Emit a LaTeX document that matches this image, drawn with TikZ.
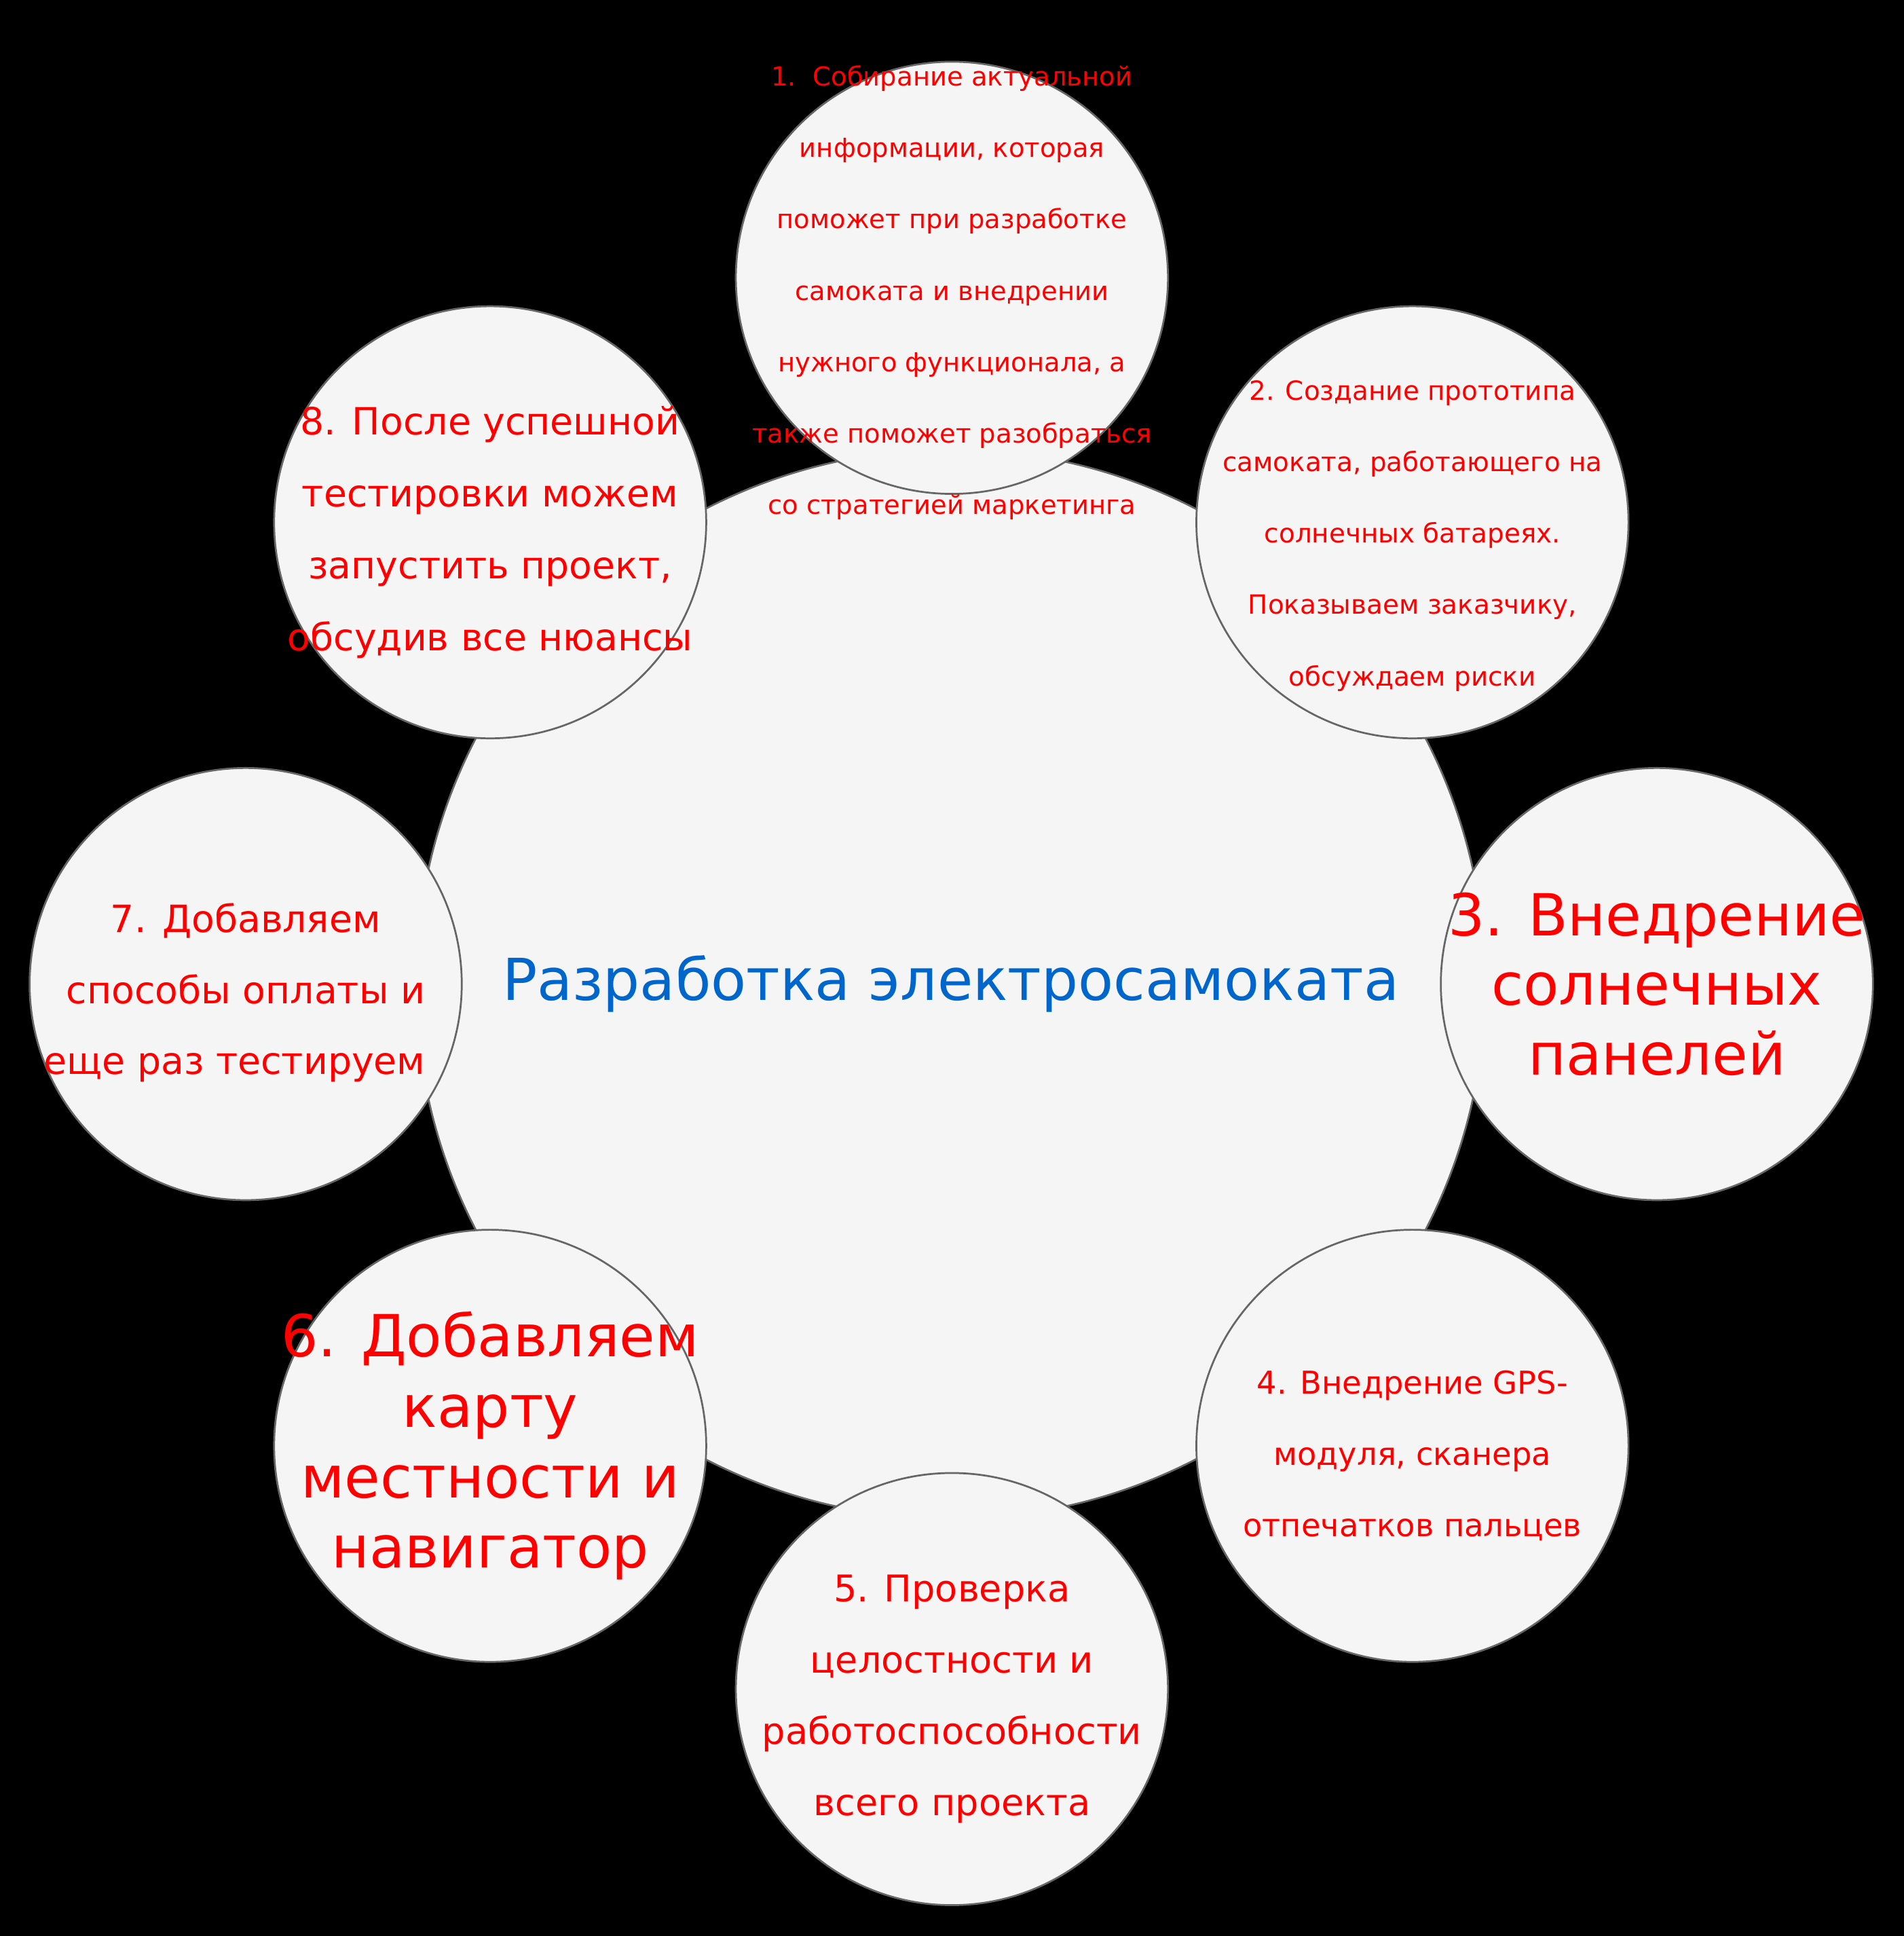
\documentclass[tikz,border=0pt]{standalone}
\usepackage{fontspec}
\setmainfont{DejaVu Sans}
\usetikzlibrary{positioning}
\definecolor{StageFill}{HTML}{F5F5F5}
\definecolor{StageLine}{HTML}{666666}
\definecolor{StageRed}{HTML}{FF0000}
\definecolor{HubBlue}{HTML}{0066CC}
\newcommand{\fsz}[2]{\fontsize{#1pt}{#2pt}\selectfont}

\begin{document}
\begin{tikzpicture}[x=1pt, y=-1pt,
  stage/.style={circle, draw=StageLine, fill=StageFill, line width=1.5pt,
    inner sep=0pt, minimum size=350pt},
  hub/.style={stage, minimum size=866pt},
  stagetext/.style={text=StageRed, align=center, inner sep=0pt}]
  \useasboundingbox (0,0) rectangle (1542,1568);
  \fill[black] (0,0) rectangle (1542,1568);
  % centre and the eight steps
  \node[hub] (hub) at (770,797) {};
  \node[stage] (s1) at (771,225) {};
  \node[stage] (s2) at (1144,423) {};
  \node[stage] (s3) at (1342,797) {};
  \node[stage] (s4) at (1144,1171) {};
  \node[stage] (s5) at (771,1368) {};
  \node[stage] (s6) at (397,1171) {};
  \node[stage] (s7) at (199,797) {};
  \node[stage] (s8) at (397,423) {};
  % texts
  \node[text=HubBlue, inner sep=0pt, font=\fsz{46.8}{58}] (hubtext) at (770,797) {Разработка электросамоката};
  \node[stagetext, font=\fsz{21.2}{57.8}] (t1) at (771,237)
    {1.\ \ Собирание актуальной\\информации, которая\\поможет при разработке\\самоката и внедрении\\нужного функционала, а\\также поможет разобраться\\со стратегией маркетинга};
  \node[stagetext, font=\fsz{21.4}{57.8}] (t2) at (1144,434)
    {2. Создание прототипа\\самоката, работающего на\\солнечных батареях.\\Показываем заказчику,\\обсуждаем риски};
  \node[stagetext, font=\fsz{47}{56.5}] (t3) at (1342,797)
    {3. Внедрение\\солнечных\\панелей};
  \node[stagetext, font=\fsz{25.5}{57.6}] (t4) at (1144,1179)
    {4. Внедрение GPS-\\модуля, сканера\\отпечатков пальцев};
  \node[stagetext, font=\fsz{29.8}{57.8}] (t5) at (771,1376)
    {5. Проверка\\целостности и\\работоспособности\\всего проекта};
  \node[stagetext, font=\fsz{47}{57}] (t6) at (397,1171)
    {6. Добавляем\\карту\\местности и\\навигатор};
  \node[stagetext, font=\fsz{30.4}{57.6}] (t7) at (199,804)
    {7. Добавляем\\способы оплаты и\\еще раз тестируем\hspace*{18pt}};
  \node[stagetext, font=\fsz{30.4}{58.3}] (t8) at (397,431)
    {8. После успешной\\тестировки можем\\запустить проект,\\обсудив все нюансы};
\end{tikzpicture}
\end{document}
